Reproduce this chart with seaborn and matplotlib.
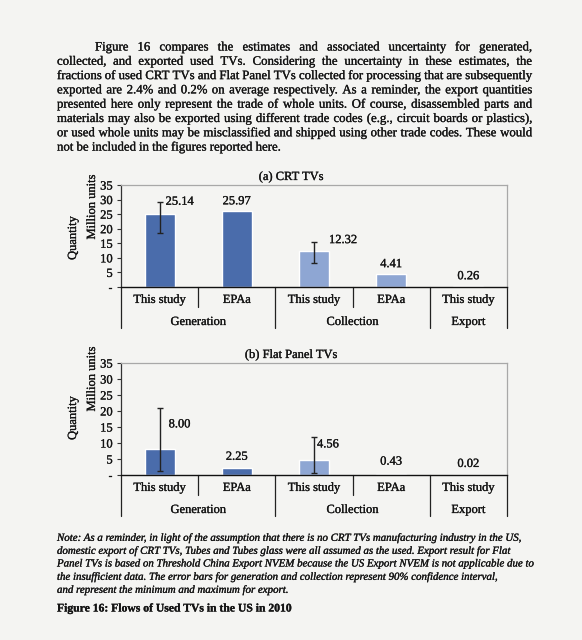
import numpy as np
import pandas as pd
import matplotlib
matplotlib.use("Agg")
import matplotlib.pyplot as plt
import matplotlib.patheffects as pe
import seaborn as sns

# ---------------- data ----------------
bar_keys = ["gen_this", "gen_epa", "col_this", "col_epa", "exp_this"]
sub_labels = ["This study", "EPAa", "This study", "EPAa", "This study"]
groups = ["Generation", "Generation", "Collection", "Collection", "Export"]
group_labels = ["Generation", "Collection", "Export"]

crt_values = [25.14, 25.97, 12.32, 4.41, 0.26]
crt_low = [18.6, np.nan, 8.4, np.nan, np.nan]
crt_high = [29.2, np.nan, 15.3, np.nan, np.nan]

fp_values = [8.00, 2.25, 4.56, 0.43, 0.02]
fp_low = [1.1, np.nan, 0.7, np.nan, np.nan]
fp_high = [20.9, np.nan, 12.0, np.nan, np.nan]

y_ticks = [0, 5, 10, 15, 20, 25, 30, 35]
y_tick_labels = ["-", "5", "10", "15", "20", "25", "30", "35"]

body_lines = [
    "Figure 16 compares the estimates and associated uncertainty for generated,",
    "collected, and exported used TVs. Considering the uncertainty in these estimates, the",
    "fractions of used CRT TVs and Flat Panel TVs collected for processing that are subsequently",
    "exported are 2.4% and 0.2% on average respectively. As a reminder, the export quantities",
    "presented here only represent the trade of whole units. Of course, disassembled parts and",
    "materials may also be exported using different trade codes (e.g., circuit boards or plastics),",
    "or used whole units may be misclassified and shipped using other trade codes. These would",
    "not be included in the figures reported here.",
]
note_lines = [
    "Note: As a reminder, in light of the assumption that there is no CRT TVs manufacturing industry in the US,",
    "domestic export of CRT TVs, Tubes and Tubes glass were all assumed as the used. Export result for Flat",
    "Panel TVs is based on Threshold China Export NVEM because the US Export NVEM is not applicable due to",
    "the insufficient data. The error bars for generation and collection represent 90% confidence interval,",
    "and represent the minimum and maximum for export.",
]
caption = "Figure 16: Flows of Used TVs in the US in 2010"

# ---------------- style ----------------
W, H = 582, 640
BG = "#f4f4f2"
DARK = "#4a6cab"
LIGHT = "#8ea6d3"
INK = "#141414"
SERIF = "Liberation Serif"
palette = {"Generation": DARK, "Collection": LIGHT, "Export": DARK}
PE = [pe.withStroke(linewidth=0.2, foreground=INK)]

sns.set_theme(style="white")
plt.rcParams["font.family"] = [SERIF, "DejaVu Serif"]

fig = plt.figure(figsize=(W / 100, H / 100), dpi=100, facecolor=BG)
renderer = fig.canvas.get_renderer()


def fx(px):
    return px / W


def fy(py):
    return 1 - py / H


def text_width(s, size, **kw):
    t = fig.text(0, 0, s, fontsize=size, **kw)
    w = t.get_window_extent(renderer).width
    t.remove()
    return w


def fit_size(s, target, **kw):
    return 10 * target / text_width(s, 10, **kw)


def justified(lines, x0, x1, y0, dy, size, indent=0, justify_last=False, **kw):
    space = text_width("a a", size, **kw) - text_width("aa", size, **kw)
    for i, line in enumerate(lines):
        words = line.split()
        y = y0 + i * dy
        xs = x0 + (indent if i == 0 else 0)
        txts = [fig.text(0, 0, w, fontsize=size, va="center_baseline", ha="left",
                         path_effects=PE, **kw) for w in words]
        widths = [t.get_window_extent(renderer).width for t in txts]
        last = i == len(lines) - 1
        if last and not justify_last:
            gap = space
        else:
            gap = (x1 - xs - sum(widths)) / (len(words) - 1)
        x = xs
        for t, w in zip(txts, widths):
            t.set_position((fx(x), fy(y)))
            x += w + gap


# body paragraph
body_size = fit_size(body_lines[2], 476, color=INK)
justified(body_lines, 57, 532, 46, 14.3, body_size, indent=38, color=INK)

# note
note_size = fit_size(note_lines[0], 466, style="italic")
for i, line in enumerate(note_lines):
    fig.text(fx(57), fy(537 + 13 * i), line, fontsize=note_size, style="italic",
             va="center_baseline", ha="left", color=INK, path_effects=PE)
cap_size = fit_size(caption, 235, weight="bold")
fig.text(fx(57), fy(607), caption, fontsize=cap_size, weight="bold",
         va="center_baseline", ha="left", color=INK, path_effects=PE)

TICK_FS = 9.0


def draw_chart(top_px, bottom_px, values, low, high, title, labels_cfg):
    ax = fig.add_axes([fx(121), fy(bottom_px), (507 - 121) / W, (bottom_px - top_px) / H])
    ax.set_facecolor(BG)
    df = pd.DataFrame({"bar": bar_keys, "value": values, "group": groups})
    sns.barplot(data=df, x="bar", y="value", hue="group", palette=palette,
                order=bar_keys, dodge=False, width=0.39, legend=False,
                saturation=1, ax=ax)
    vals = np.array(values)
    lo = np.array(low)
    hi = np.array(high)
    m = ~np.isnan(lo)
    xpos = np.arange(len(vals))
    ax.errorbar(xpos[m], vals[m], yerr=[vals[m] - lo[m], hi[m] - vals[m]],
                fmt="none", ecolor="#222222", elinewidth=1.0, capsize=2.2, capthick=1.0)
    ax.set_xlim(-0.5, 4.5)
    ax.set_ylim(0, 35)
    ax.set_yticks(y_ticks)
    ax.set_yticklabels(y_tick_labels, fontsize=TICK_FS, color=INK)
    ax.tick_params(axis="y", left=True, length=3, width=0.8, color="#333333", pad=3)
    ax.set_xticks(xpos)
    ax.set_xticklabels(sub_labels, fontsize=TICK_FS, color=INK)
    ax.tick_params(axis="x", bottom=False, length=0, pad=5)
    for t in ax.get_xticklabels() + ax.get_yticklabels():
        t.set_path_effects(PE)
    ax.set_xlabel("")
    ax.set_ylabel("")
    for s in ["top", "right"]:
        ax.spines[s].set_color("#a8a8a8")
        ax.spines[s].set_linewidth(0.9)
    ax.spines["left"].set_color("#333333")
    ax.spines["bottom"].set_color("#111111")
    ax.spines["left"].set_linewidth(0.9)
    ax.spines["bottom"].set_linewidth(1.0)
    hpx = bottom_px - top_px
    tr = ax.get_xaxis_transform()
    for xd, depth in [(-0.5, 41), (0.5, 20), (1.5, 41), (2.5, 20), (3.5, 41), (4.5, 41)]:
        ax.plot([xd, xd], [0, -depth / hpx], transform=tr, color="#222222",
                lw=0.9, clip_on=False)
    for gx, gl in zip([0.5, 2.5, 4.0], group_labels):
        ax.text(gx, -35 / hpx, gl, transform=tr, ha="center", va="center",
                fontsize=TICK_FS, color=INK, path_effects=PE)
    # value labels
    for i, (v, (anchor, dx, dy, ha)) in enumerate(zip(values, labels_cfg)):
        yref = v if anchor == "bar" else high[i]
        ax.annotate(f"{v:.2f}", (i, yref), xytext=(dx, dy), textcoords="offset pixels",
                    ha=ha, va="center", fontsize=TICK_FS, color=INK, path_effects=PE)
    fig.text(fx(291), fy(top_px - 8), title, ha="center", va="center",
             fontsize=TICK_FS, color=INK, path_effects=PE)
    return ax


crt_label_cfg = [("bar", 6, 12, "left"), ("bar", 0, 10, "center"),
                 ("bar", 15, 11, "left"), ("bar", 0, 10, "center"), ("bar", 0, 10, "center")]
fp_label_cfg = [("bar", 9, 25, "left"), ("bar", 0, 11, "center"),
                ("bar", 14, 16, "center"), ("bar", 0, 12, "center"), ("bar", 0, 11, "center")]

draw_chart(185, 287, crt_values, crt_low, crt_high, "(a) CRT TVs", crt_label_cfg)
draw_chart(363, 475, fp_values, fp_low, fp_high, "(b) Flat Panel TVs", fp_label_cfg)

for (mx, my), (qx, qy) in [((92, 207), (73, 238)), ((92, 379), (73, 418))]:
    fig.text(fx(mx), fy(my), "Million units", rotation=90, ha="center", va="center",
             fontsize=TICK_FS, color=INK, path_effects=PE)
    fig.text(fx(qx), fy(qy), "Quantity", rotation=90, ha="center", va="center",
             fontsize=TICK_FS, color=INK, path_effects=PE)

fig.savefig("out.png", dpi=100, facecolor=BG)
